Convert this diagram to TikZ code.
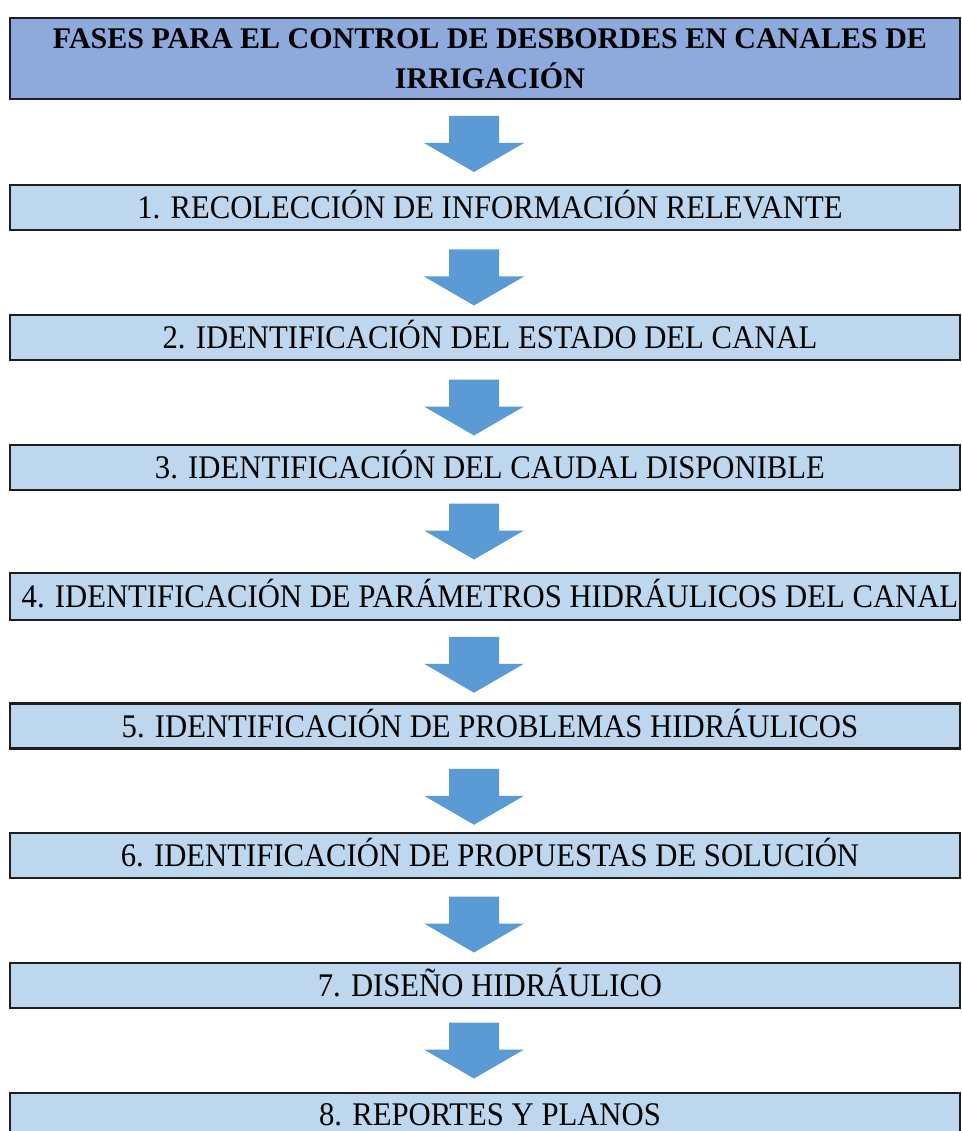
\documentclass[tikz,border=0pt]{standalone}
\usepackage{fontspec}
\usepackage{graphicx}
\setmainfont{Liberation Serif}
\usetikzlibrary{calc}
\definecolor{titlefill}{HTML}{8EA9DB}
\definecolor{boxfill}{HTML}{BDD7EE}
\definecolor{arrowfill}{HTML}{5B9BD5}
\definecolor{edgecol}{HTML}{1E1E1E}
\newcommand\stagetext[1]{\hspace*{10pt}\scalebox{0.93}[1]{#1}}
\begin{document}
\begin{tikzpicture}[x=1pt,y=-1pt,
  stagebox/.style={draw=edgecol, line width=2.4pt, fill=boxfill, minimum width=950pt,
    minimum height=45pt, inner sep=0pt, text height=22pt, text depth=0pt,
    font=\fontsize{33}{36}\selectfont},
  titlebox/.style={draw=edgecol, line width=2.4pt, fill=titlefill, minimum width=950pt,
    minimum height=81pt, inner sep=0pt, align=center,
    font=\fontsize{30}{40}\selectfont\bfseries},
  pics/downarrow/.style={code={
    \fill[arrowfill] (-25,-28) -- (25,-28) -- (25,-1) -- (50,-1) -- (0,28)
      -- (-50,-1) -- (-25,-1) -- cycle;}}
]
\useasboundingbox (0,0) rectangle (961,1131);
\clip (0,0) rectangle (961,1131);

\node[titlebox] (t) at (485,58.5)
  {\hspace*{10pt}FASES PARA EL CONTROL DE DESBORDES EN CANALES DE\\\hspace*{10pt}IRRIGACIÓN};

\node[stagebox] (b1) at (485,207.5) {\stagetext{1. RECOLECCIÓN DE INFORMACIÓN RELEVANTE}};
\node[stagebox] (b2) at (485,337.5) {\stagetext{2. IDENTIFICACIÓN DEL ESTADO DEL CANAL}};
\node[stagebox] (b3) at (485,467.5) {\stagetext{3. IDENTIFICACIÓN DEL CAUDAL DISPONIBLE}};
\node[stagebox, minimum height=47pt] (b4) at (485,596.5) {\stagetext{4. IDENTIFICACIÓN DE PARÁMETROS HIDRÁULICOS DEL CANAL}};
\node[stagebox] (b5) at (485,726) {\stagetext{5. IDENTIFICACIÓN DE PROBLEMAS HIDRÁULICOS}};
\node[stagebox] (b6) at (485,855.5) {\stagetext{6. IDENTIFICACIÓN DE PROPUESTAS DE SOLUCIÓN}};
\node[stagebox] (b7) at (485,985.5) {\stagetext{7. DISEÑO HIDRÁULICO}};
\node[stagebox, minimum height=42pt] (b8) at (485,1114) {\stagetext{8. REPORTES Y PLANOS}};

\pic at ($(t.south)!0.5!(b1.north)+(-11,2)$) {downarrow};
\pic at ($(b1.south)!0.5!(b2.north)+(-11,5)$) {downarrow};
\pic at ($(b2.south)!0.5!(b3.north)+(-11,5)$) {downarrow};
\pic at ($(b3.south)!0.5!(b4.north)+(-11,0)$) {downarrow};
\pic at ($(b4.south)!0.5!(b5.north)+(-11,3)$) {downarrow};
\pic at ($(b5.south)!0.5!(b6.north)+(-11,6)$) {downarrow};
\pic at ($(b6.south)!0.5!(b7.north)+(-11,4)$) {downarrow};
\pic at ($(b7.south)!0.5!(b8.north)+(-11,0)$) {downarrow};
\end{tikzpicture}
\end{document}
